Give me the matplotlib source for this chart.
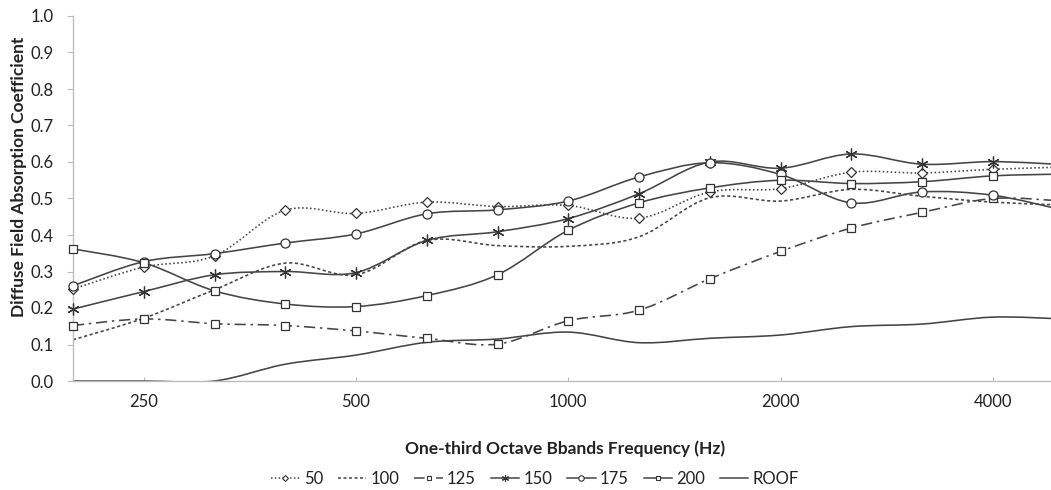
import matplotlib
matplotlib.use("Agg")
import matplotlib.pyplot as plt
from matplotlib.path import Path
from matplotlib.patches import PathPatch
from matplotlib.lines import Line2D
import numpy as np

# one-third octave band centre frequencies (Hz), drawn as evenly spaced categories
FREQS = [200, 250, 315, 400, 500, 630, 800, 1000, 1250, 1600, 2000, 2500, 3150, 4000, 5000]
TICK_FREQS = [250, 500, 1000, 2000, 4000]

S50 = [0.252, 0.312, 0.343, 0.468, 0.459, 0.490, 0.478, 0.481, 0.446, 0.518, 0.527, 0.572, 0.570, 0.580, 0.586]
S100 = [0.113, 0.172, 0.250, 0.323, 0.291, 0.385, 0.371, 0.369, 0.395, 0.502, 0.493, 0.525, 0.506, 0.490, 0.482]
S125 = [0.152, 0.170, 0.157, 0.152, 0.137, 0.117, 0.101, 0.165, 0.194, 0.280, 0.355, 0.419, 0.462, 0.500, 0.493]
S150 = [0.197, 0.245, 0.291, 0.300, 0.297, 0.385, 0.409, 0.445, 0.513, 0.600, 0.583, 0.622, 0.594, 0.601, 0.593]
S175 = [0.261, 0.327, 0.349, 0.378, 0.403, 0.458, 0.469, 0.493, 0.559, 0.598, 0.566, 0.488, 0.518, 0.509, 0.468]
S200 = [0.362, 0.324, 0.247, 0.211, 0.204, 0.234, 0.291, 0.413, 0.488, 0.529, 0.550, 0.541, 0.546, 0.562, 0.567]
ROOF = [0.000, 0.000, 0.000, 0.046, 0.071, 0.106, 0.115, 0.134, 0.105, 0.117, 0.126, 0.149, 0.156, 0.175, 0.170]

LINE = "#454545"
AXIS = "#bdbdbd"
TEXT = "#222222"

# (label, values, linestyle, marker, markersize)
SERIES = [
    ("50", S50, (0, (1.0, 1.5)), "D", 5.0),
    ("100", S100, (0, (2.0, 1.6)), None, 0),
    ("125", S125, (0, (7.0, 3.0, 1.5, 3.0)), "s", 6.0),
    ("150", S150, "solid", (6, 2, 0), 8.5),
    ("175", S175, "solid", "o", 6.5),
    ("200", S200, "solid", "s", 6.0),
    ("ROOF", ROOF, "solid", None, 0),
]


def smooth_path(xs, ys):
    """Excel-like smoothed line: Catmull-Rom segments as cubic Beziers."""
    pts = np.column_stack([xs, ys]).astype(float)
    n = len(pts)
    verts, codes = [pts[0]], [Path.MOVETO]
    for i in range(n - 1):
        p0, p1 = pts[max(i - 1, 0)], pts[i]
        p2, p3 = pts[i + 1], pts[min(i + 2, n - 1)]
        verts += [p1 + (p2 - p0) / 6, p2 - (p3 - p1) / 6, p2]
        codes += [Path.CURVE4] * 3
    return Path(verts, codes)


plt.rcParams["font.family"] = ["Lato", "DejaVu Sans"]

fig = plt.figure(figsize=(10.51, 4.90), dpi=100)
ax = fig.add_axes([73 / 1051, 1 - 381 / 490, 1 - 73 / 1051, (381 - 16) / 490])

x = np.arange(len(FREQS))
handles = []
for label, vals, ls, marker, ms in SERIES:
    ax.add_patch(PathPatch(smooth_path(x, vals), fill=False, edgecolor=LINE,
                           linewidth=1.15, linestyle=ls, zorder=2))
    if marker is not None:
        ax.plot(x, vals, linestyle="none", marker=marker, markersize=ms,
                markerfacecolor="white", markeredgecolor="#333333",
                markeredgewidth=0.9, zorder=3, clip_on=False)
    handles.append(Line2D([], [], color=LINE, linewidth=1.1, linestyle=ls,
                          marker=marker, markersize=ms * 0.6 if ms else 0,
                          markerfacecolor="white", markeredgecolor="#333333",
                          markeredgewidth=0.8, label=label))

ax.set_xlim(0, (1051 - 73) / 70.75)
ax.set_ylim(0, 1.0)
ax.set_yticks(np.arange(0, 1.01, 0.1))
ax.set_yticklabels([f"{v:.1f}" for v in np.arange(0, 1.01, 0.1)])
ax.set_xticks([FREQS.index(f) for f in TICK_FREQS])
ax.set_xticklabels([str(f) for f in TICK_FREQS])

for side in ("top", "right"):
    ax.spines[side].set_visible(False)
for side in ("left", "bottom"):
    ax.spines[side].set_color(AXIS)
    ax.spines[side].set_linewidth(1.0)
ax.tick_params(axis="y", direction="out", length=4, color=AXIS, pad=10,
               labelsize=12, labelcolor=TEXT)
ax.tick_params(axis="x", direction="in", length=3, color=AXIS, pad=9,
               labelsize=12, labelcolor=TEXT)

fig.text(19 / 1051, 1 - 177 / 490, "Diffuse Field Absorption Coefficient",
         rotation=90, ha="center", va="center", fontsize=12.5, fontweight="bold",
         color=TEXT)
fig.text(565 / 1051, 1 - 449 / 490, "One-third Octave Bbands Frequency (Hz)",
         ha="center", va="center", fontsize=12.5, fontweight="bold", color=TEXT)

fig.legend(handles=handles, loc="center", bbox_to_anchor=(535 / 1051, 1 - 479 / 490),
           ncol=7, frameon=False, fontsize=12, handlelength=1.7, handletextpad=0.25,
           columnspacing=0.9, labelcolor=TEXT)

fig.savefig("out.png", dpi=100)
